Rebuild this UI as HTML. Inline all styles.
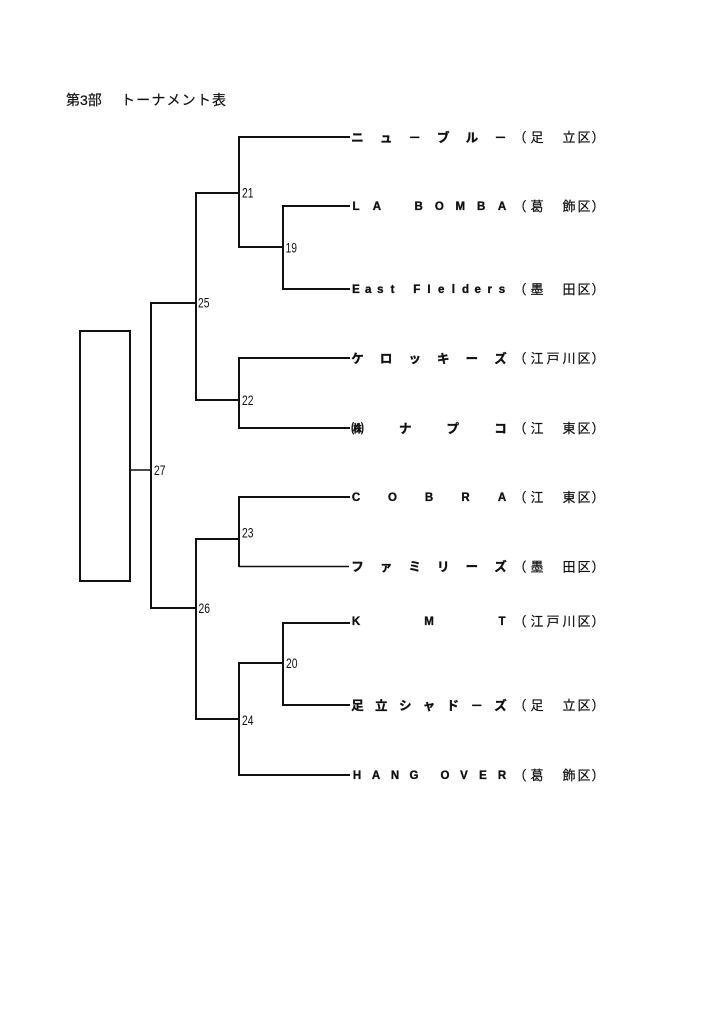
<!DOCTYPE html>
<html><head><meta charset="utf-8">
<style>
html,body{margin:0;padding:0;background:#fff;}
svg{display:block;}
.n{font-family:"Liberation Sans Narrow","Liberation Sans",sans-serif;font-size:13.5px;fill:#111;}
.jp{font-family:"Liberation Sans","Noto Sans CJK JP",sans-serif;font-size:12.5px;font-weight:bold;fill:#111;stroke:#111;stroke-width:0.35;}
.la{font-family:"Liberation Sans","Noto Sans CJK JP",sans-serif;font-size:11.5px;font-weight:bold;fill:#111;stroke:#111;stroke-width:0.35;}
.d{font-family:"Liberation Sans","Noto Sans CJK JP",sans-serif;font-size:13px;fill:#111;stroke:#111;stroke-width:0.2;}
.t{font-family:"Liberation Sans","Noto Sans CJK JP",sans-serif;font-size:14px;fill:#111;stroke:#111;stroke-width:0.2;}
</style></head>
<body>
<svg width="724" height="1024" viewBox="0 0 724 1024" xmlns="http://www.w3.org/2000/svg">
<rect x="0" y="0" width="724" height="1024" fill="#fff"/>
<!-- title -->
<text class="t" x="66" y="105">第3部</text>
<text class="t" x="121" y="105" textLength="105" lengthAdjust="spacing">トーナメント表</text>

<g stroke="#111" stroke-width="2" fill="none">
<rect x="80" y="331" width="50" height="250"/>
<line x1="151" y1="302" x2="151" y2="609"/>
<line x1="150" y1="303" x2="197" y2="303"/>
<line x1="150" y1="608" x2="197" y2="608"/>
<!-- 25 -->
<line x1="196" y1="192" x2="196" y2="401"/>
<line x1="195" y1="193" x2="240" y2="193"/>
<line x1="195" y1="400" x2="240" y2="400"/>
<!-- 21 -->
<line x1="239" y1="136" x2="239" y2="248"/>
<line x1="238" y1="137" x2="350" y2="137"/>
<line x1="238" y1="247" x2="284" y2="247"/>
<!-- 19 -->
<line x1="283" y1="205" x2="283" y2="290"/>
<line x1="282" y1="206" x2="350" y2="206"/>
<line x1="282" y1="289" x2="350" y2="289"/>
<!-- 22 -->
<line x1="239" y1="357" x2="239" y2="429"/>
<line x1="238" y1="358" x2="350" y2="358"/>
<line x1="238" y1="428" x2="350" y2="428"/>
<!-- 26 -->
<line x1="196" y1="538" x2="196" y2="720"/>
<line x1="195" y1="539" x2="240" y2="539"/>
<line x1="195" y1="719" x2="240" y2="719"/>
<!-- 23 -->
<line x1="239" y1="496" x2="239" y2="567"/>
<line x1="238" y1="497" x2="350" y2="497"/>
<!-- 24 -->
<line x1="239" y1="662" x2="239" y2="776"/>
<line x1="238" y1="663" x2="284" y2="663"/>
<line x1="238" y1="775" x2="350" y2="775"/>
<!-- 20 -->
<line x1="283" y1="622" x2="283" y2="706"/>
<line x1="282" y1="623" x2="350" y2="623"/>
<line x1="282" y1="705" x2="350" y2="705"/>
</g>
<line x1="239" y1="566.5" x2="349" y2="566.5" stroke="#111" stroke-width="1.4"/>
<line x1="130" y1="470" x2="151" y2="470" stroke="#111" stroke-width="1.5"/>

<!-- match numbers -->
<text class="n" x="242" y="197.5" textLength="11.5" lengthAdjust="spacingAndGlyphs">21</text>
<text class="n" x="285.5" y="252.5" textLength="11.5" lengthAdjust="spacingAndGlyphs">19</text>
<text class="n" x="198" y="307.5" textLength="11.5" lengthAdjust="spacingAndGlyphs">25</text>
<text class="n" x="242" y="405" textLength="11.5" lengthAdjust="spacingAndGlyphs">22</text>
<text class="n" x="154" y="475" textLength="11.5" lengthAdjust="spacingAndGlyphs">27</text>
<text class="n" x="242" y="537.5" textLength="11.5" lengthAdjust="spacingAndGlyphs">23</text>
<text class="n" x="198.5" y="613" textLength="11.5" lengthAdjust="spacingAndGlyphs">26</text>
<text class="n" x="286" y="668" textLength="11.5" lengthAdjust="spacingAndGlyphs">20</text>
<text class="n" x="242" y="725" textLength="11.5" lengthAdjust="spacingAndGlyphs">24</text>

<!-- team names -->
<g text-anchor="middle">
<text class="jp" y="141.8"><tspan x="357.5">ニ</tspan><tspan x="386.1">ュ</tspan><tspan x="414.7">－</tspan><tspan x="443.3">ブ</tspan><tspan x="471.9">ル</tspan><tspan x="500.5">－</tspan></text>
<text class="la" y="210.2"><tspan x="356">L</tspan><tspan x="376.9">A</tspan><tspan x="418.6">B</tspan><tspan x="439.4">O</tspan><tspan x="460.3">M</tspan><tspan x="481.1">B</tspan><tspan x="502">A</tspan></text>
<text class="la" y="293.2"><tspan x="356">E</tspan><tspan x="368.2">a</tspan><tspan x="380.3">s</tspan><tspan x="392.5">t</tspan><tspan x="416.8">F</tspan><tspan x="429">I</tspan><tspan x="441.2">e</tspan><tspan x="453.3">l</tspan><tspan x="465.5">d</tspan><tspan x="477.7">e</tspan><tspan x="489.8">r</tspan><tspan x="502">s</tspan></text>
<text class="jp" y="362.8"><tspan x="357.5">ケ</tspan><tspan x="386.1">ロ</tspan><tspan x="414.7">ッ</tspan><tspan x="443.3">キ</tspan><tspan x="471.9">ー</tspan><tspan x="500.5">ズ</tspan></text>
<text class="jp" y="432.8"><tspan x="357.5">㈱</tspan><tspan x="405.2">ナ</tspan><tspan x="452.8">プ</tspan><tspan x="500.5">コ</tspan></text>
<text class="la" y="501.2"><tspan x="356">C</tspan><tspan x="392.5">O</tspan><tspan x="429">B</tspan><tspan x="465.5">R</tspan><tspan x="502">A</tspan></text>
<text class="jp" y="571.2"><tspan x="357.5">フ</tspan><tspan x="386.1">ァ</tspan><tspan x="414.7">ミ</tspan><tspan x="443.3">リ</tspan><tspan x="471.9">ー</tspan><tspan x="500.5">ズ</tspan></text>
<text class="la" y="625.2"><tspan x="356">K</tspan><tspan x="429">M</tspan><tspan x="502">T</tspan></text>
<text class="jp" y="709.8"><tspan x="357.5">足</tspan><tspan x="381.3">立</tspan><tspan x="405.2">シ</tspan><tspan x="429">ャ</tspan><tspan x="452.8">ド</tspan><tspan x="476.7">－</tspan><tspan x="500.5">ズ</tspan></text>
<text class="la" y="779.2"><tspan x="357">H</tspan><tspan x="376">A</tspan><tspan x="395">N</tspan><tspan x="414">G</tspan><tspan x="445">O</tspan><tspan x="464">V</tspan><tspan x="483">E</tspan><tspan x="502">R</tspan></text>
</g>

<!-- districts -->
<g text-anchor="middle">
<text class="d" y="142"><tspan x="520">（</tspan><tspan x="537">足</tspan><tspan x="569">立</tspan><tspan x="584">区</tspan><tspan x="598">）</tspan></text>
<text class="d" y="211"><tspan x="520">（</tspan><tspan x="537">葛</tspan><tspan x="569">飾</tspan><tspan x="584">区</tspan><tspan x="598">）</tspan></text>
<text class="d" y="294"><tspan x="520">（</tspan><tspan x="537">墨</tspan><tspan x="569">田</tspan><tspan x="584">区</tspan><tspan x="598">）</tspan></text>
<text class="d" y="363"><tspan x="520">（</tspan><tspan x="537">江</tspan><tspan x="553">戸</tspan><tspan x="569">川</tspan><tspan x="584">区</tspan><tspan x="598">）</tspan></text>
<text class="d" y="433"><tspan x="520">（</tspan><tspan x="537">江</tspan><tspan x="569">東</tspan><tspan x="584">区</tspan><tspan x="598">）</tspan></text>
<text class="d" y="502"><tspan x="520">（</tspan><tspan x="537">江</tspan><tspan x="569">東</tspan><tspan x="584">区</tspan><tspan x="598">）</tspan></text>
<text class="d" y="571.5"><tspan x="520">（</tspan><tspan x="537">墨</tspan><tspan x="569">田</tspan><tspan x="584">区</tspan><tspan x="598">）</tspan></text>
<text class="d" y="626"><tspan x="520">（</tspan><tspan x="537">江</tspan><tspan x="553">戸</tspan><tspan x="569">川</tspan><tspan x="584">区</tspan><tspan x="598">）</tspan></text>
<text class="d" y="710"><tspan x="520">（</tspan><tspan x="537">足</tspan><tspan x="569">立</tspan><tspan x="584">区</tspan><tspan x="598">）</tspan></text>
<text class="d" y="780"><tspan x="520">（</tspan><tspan x="537">葛</tspan><tspan x="569">飾</tspan><tspan x="584">区</tspan><tspan x="598">）</tspan></text>
</g>
</svg>
</body></html>
